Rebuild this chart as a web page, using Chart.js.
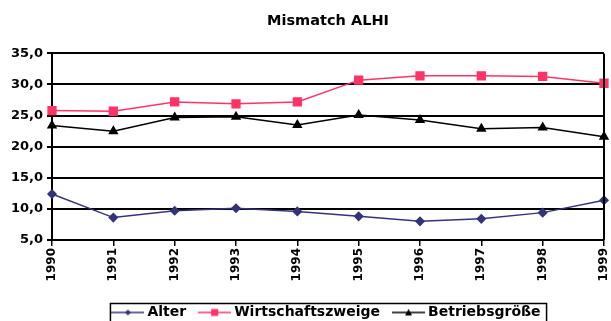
<!DOCTYPE html>
<html>
<head>
<meta charset="utf-8">
<script src="https://cdn.jsdelivr.net/npm/chart.js@4.4.0/dist/chart.umd.min.js"></script>
<style>
  html, body { margin: 0; padding: 0; background: #fff; }
  #wrap { width: 611px; height: 321px; }
</style>
</head>
<body>
<div id="wrap"><canvas id="myChart"></canvas></div>
<script>
const years = ['1990', '1991', '1992', '1993', '1994', '1995', '1996', '1997', '1998', '1999'];
const alter = [12.4, 8.6, 9.7, 10.1, 9.6, 8.8, 8.0, 8.4, 9.4, 11.4];
const wirtschaft = [25.8, 25.7, 27.2, 26.9, 27.2, 30.7, 31.4, 31.4, 31.3, 30.2];
const betrieb = [23.4, 22.5, 24.7, 24.8, 23.5, 25.1, 24.3, 22.9, 23.1, 21.6];
const seriesNames = ['Alter', 'Wirtschaftszweige', 'Betriebsgröße'];

const navy = '#33337a';
const pink = '#ff3366';
const black = '#000000';
const font = 'DejaVu Sans';

// small legend icons: line with the marker in the middle
function legendIcon(color, style) {
  const c = document.createElement('canvas');
  c.width = 33;
  c.height = 10;
  const g = c.getContext('2d');
  g.strokeStyle = color;
  g.fillStyle = color;
  g.lineWidth = 1.5;
  g.beginPath();
  g.moveTo(0, 5);
  g.lineTo(33, 5);
  g.stroke();
  g.beginPath();
  if (style === 'rect') {
    g.rect(13, 1.5, 7, 7);
  } else if (style === 'triangle') {
    g.moveTo(16.5, 1.5);
    g.lineTo(20, 8);
    g.lineTo(13, 8);
    g.closePath();
  } else {
    g.moveTo(16.5, 2);
    g.lineTo(19.5, 5);
    g.lineTo(16.5, 8);
    g.lineTo(13.5, 5);
    g.closePath();
  }
  g.fill();
  return c;
}

const icons = [legendIcon(navy, 'diamond'), legendIcon(pink, 'rect'), legendIcon(black, 'triangle')];

const frame = {
  id: 'frame',
  afterDraw(chart) {
    const g = chart.ctx;
    const a = chart.chartArea;
    g.save();
    g.strokeStyle = '#000';
    g.lineWidth = 2;
    g.beginPath();
    g.moveTo(a.right, a.top);
    g.lineTo(a.right, a.bottom);
    g.stroke();
    // box round the legend
    const boxes = chart.legend.legendHitBoxes;
    if (boxes && boxes.length) {
      const first = boxes[0];
      const last = boxes[boxes.length - 1];
      g.lineWidth = 1.5;
      g.strokeRect(first.left - 5, first.top - 2, last.left + last.width - first.left + 11, 40);
    }
    g.restore();
  }
};

const ctx = document.getElementById('myChart');

new Chart(ctx, {
  type: 'line',
  data: {
    labels: years,
    datasets: [
      {
        label: seriesNames[0],
        data: alter,
        borderColor: navy,
        backgroundColor: navy,
        borderWidth: 1.5,
        pointStyle: 'rectRot',
        pointRadius: 4,
        tension: 0
      },
      {
        label: seriesNames[1],
        data: wirtschaft,
        borderColor: pink,
        backgroundColor: pink,
        borderWidth: 1.5,
        pointStyle: 'rect',
        pointRadius: 5.5,
        tension: 0
      },
      {
        label: seriesNames[2],
        data: betrieb,
        borderColor: black,
        backgroundColor: black,
        borderWidth: 1.5,
        pointStyle: 'triangle',
        pointRadius: 4.5,
        tension: 0
      }
    ]
  },
  options: {
    responsive: true,
    maintainAspectRatio: false,
    animation: false,
    layout: { padding: { top: 0, right: 7, left: 0, bottom: -8.5 } },
    plugins: {
      title: {
        display: true,
        fullSize: false,
        text: 'Mismatch ALHI',
        color: '#000',
        font: { family: font, size: 14.5, weight: 'bold' },
        padding: { top: 13, bottom: 23 }
      },
      legend: {
        position: 'bottom',
        fullSize: false,
        labels: {
          color: '#000',
          font: { family: font, size: 14, weight: 'bold' },
          usePointStyle: true,
          pointStyleWidth: 25,
          padding: 16,
          generateLabels(chart) {
            return chart.data.datasets.map((d, i) => ({
              text: d.label,
              fillStyle: d.borderColor,
              strokeStyle: d.borderColor,
              fontColor: '#000',
              pointStyle: icons[i],
              lineWidth: 0,
              datasetIndex: i
            }));
          }
        }
      },
      tooltip: { enabled: false }
    },
    scales: {
      x: {
        offset: false,
        afterFit(scale) {
          scale.height = 49.5;
          scale.paddingLeft = 0;
          scale.paddingRight = 0;
        },
        grid: {
          display: true,
          drawOnChartArea: false,
          drawTicks: true,
          tickLength: 6,
          color: '#000',
          lineWidth: 1.5
        },
        border: { display: true, color: '#000', width: 2 },
        ticks: {
          color: '#000',
          font: { family: font, size: 12, weight: 'bold' },
          minRotation: 90,
          maxRotation: 90,
          autoSkip: false,
          padding: 2
        }
      },
      y: {
        min: 5,
        max: 35,
        afterFit(scale) { scale.width = 52; },
        grid: {
          color: '#000',
          lineWidth: 2,
          tickLength: 5
        },
        border: { display: true, color: '#000', width: 2 },
        ticks: {
          stepSize: 5,
          color: '#000',
          font: { family: font, size: 13, weight: 'bold' },
          padding: 4,
          callback: v => v.toFixed(1).replace('.', ',')
        }
      }
    }
  },
  plugins: [frame]
});
</script>
</body>
</html>
